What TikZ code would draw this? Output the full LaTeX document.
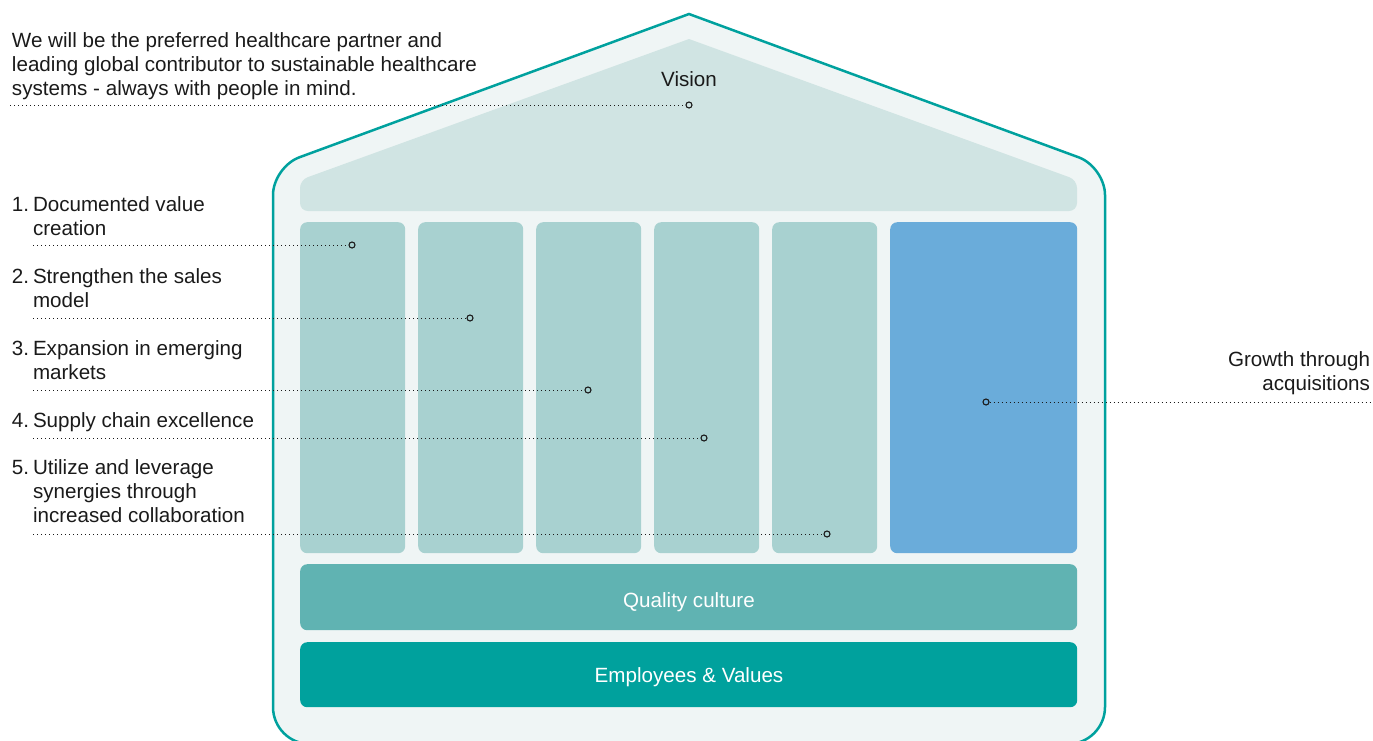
\documentclass[tikz,border=0pt]{standalone}
\usepackage{fontspec}
\setmainfont{Liberation Sans}
\definecolor{ink}{HTML}{1A1A1A}
\definecolor{houseline}{HTML}{00A19E}
\definecolor{housefill}{HTML}{EFF5F5}
\definecolor{rooffill}{HTML}{D0E4E3}
\definecolor{pillarfill}{HTML}{A8D1D0}
\definecolor{growthfill}{HTML}{6AACDA}
\definecolor{qualityfill}{HTML}{60B3B2}
\definecolor{employeefill}{HTML}{00A19D}
\begin{document}
\begin{tikzpicture}[x=1pt,y=-1pt,
  txt/.style={font=\fontsize{20.6}{24}\selectfont, text=ink, inner sep=0pt, outer sep=0pt},
  block/.style={rounded corners=7pt, draw=none, inner sep=0pt, anchor=north west},
  pillar/.style={block, fill=pillarfill, minimum width=105pt, minimum height=331pt},
  bandtxt/.style={font=\fontsize{20.6}{24}\selectfont, text=white, inner sep=0pt, anchor=base},
  leader/.style={draw=ink, line width=1pt, dash pattern=on 1pt off 3pt},
  dotmark/.style={circle, draw=ink, line width=1.1pt, inner sep=0pt, minimum size=6pt},
]
\useasboundingbox (0,0) rectangle (1373,740);

% house outline: sharp apex, rounded eaves and base
\path[fill=housefill, draw=houseline, line width=2.5pt]
  (273,450) [rounded corners=28pt] -- (273,167)
  [sharp corners] -- (689,14)
  [rounded corners=28pt] -- (1105,167)
  [rounded corners=37pt] -- (1105,744) -- (273,744) -- cycle;

% roof
\path[fill=rooffill]
  (300,211) [rounded corners=8pt] -- (300,180)
  [sharp corners] -- (689,39)
  [rounded corners=8pt] -- (1077,180) -- (1077,211) -- cycle;

% pillars
\node[pillar] (p1) at (300,222) {};
\node[pillar] (p2) at (418,222) {};
\node[pillar] (p3) at (536,222) {};
\node[pillar] (p4) at (654,222) {};
\node[pillar] (p5) at (772,222) {};
\node[block, fill=growthfill, minimum width=187pt, minimum height=331pt] (p6) at (890,222) {};

% foundation bands
\node[block, fill=qualityfill, minimum width=777pt, minimum height=66pt] (quality) at (300,564) {};
\node[bandtxt] (qualitytxt) at (689,607) {Quality culture};
\node[block, fill=employeefill, minimum width=777pt, minimum height=65pt] (employees) at (300,642) {};
\node[bandtxt] (employeestxt) at (689,682) {Employees \& Values};

% labels (base anchor sits on the last line)
\node[txt, anchor=base] (vision) at (689,86.5) {Vision};
\node[txt, anchor=base west, align=left] (statement) at (12,95)
  {We will be the preferred healthcare partner and\\leading global contributor to sustainable healthcare\\systems - always with people in mind.};

\node[txt, anchor=base west] (n1) at (12,211.5) {1.};
\node[txt, anchor=base west, align=left] (t1) at (33,235.5) {Documented value\\creation};
\node[txt, anchor=base west] (n2) at (12,283) {2.};
\node[txt, anchor=base west, align=left] (t2) at (33,307) {Strengthen the sales\\model};
\node[txt, anchor=base west] (n3) at (12,355) {3.};
\node[txt, anchor=base west, align=left] (t3) at (33,379) {Expansion in emerging\\markets};
\node[txt, anchor=base west] (n4) at (12,427) {4.};
\node[txt, anchor=base west, align=left] (t4) at (33,427) {Supply chain excellence};
\node[txt, anchor=base west] (n5) at (12,474) {5.};
\node[txt, anchor=base west, align=left] (t5) at (33,522) {Utilize and leverage\\synergies through\\increased collaboration};

\node[txt, anchor=base east, align=right] (growth) at (1370,390.5) {Growth through\\acquisitions};

% markers
\node[dotmark] (m0) at (689,105) {};
\node[dotmark] (m1) at (352,245) {};
\node[dotmark] (m2) at (470,318) {};
\node[dotmark] (m3) at (588,390) {};
\node[dotmark] (m4) at (704,438) {};
\node[dotmark] (m5) at (827,534) {};
\node[dotmark] (m6) at (986,402) {};

% leader line ends
\coordinate (s0) at (10,105);
\coordinate (s1) at (33,245);
\coordinate (s2) at (33,318);
\coordinate (s3) at (33,390);
\coordinate (s4) at (33,438);
\coordinate (s5) at (33,534);
\coordinate (s6) at (1370,402);

\draw[leader] (s0) -- (m0.west);
\draw[leader] (s1) -- (m1.west);
\draw[leader] (s2) -- (m2.west);
\draw[leader] (s3) -- (m3.west);
\draw[leader] (s4) -- (m4.west);
\draw[leader] (s5) -- (m5.west);
\draw[leader] (m6.east) -- (s6);
\end{tikzpicture}
\end{document}
